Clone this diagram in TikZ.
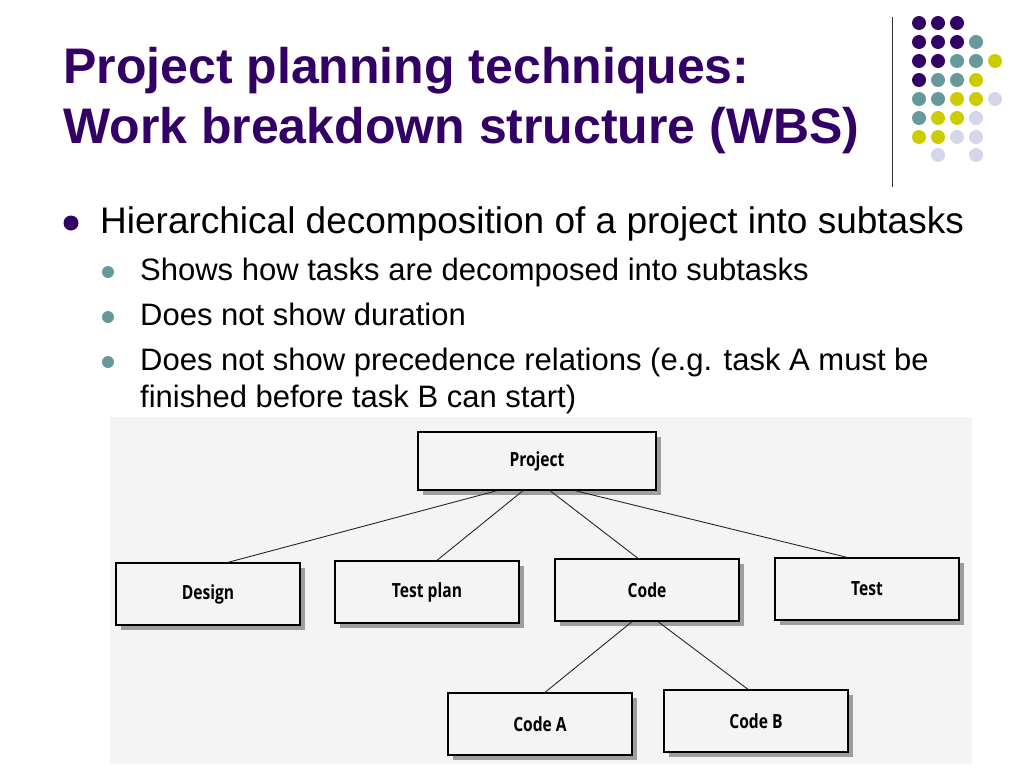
\documentclass[tikz,border=0pt]{standalone}
\usepackage{fontspec}
\setmainfont{Liberation Sans}
\newfontfamily\boxfont[FakeStretch=0.8]{Open Sans}
\usetikzlibrary{shadows}

\definecolor{slidepurple}{RGB}{51,0,102}
\definecolor{slideteal}{RGB}{102,153,153}
\definecolor{slideyellow}{RGB}{204,204,0}
\definecolor{slidelilac}{RGB}{214,214,235}
\definecolor{scanbg}{RGB}{244,244,244}

\tikzset{
  title/.style={anchor=base west, inner sep=0, color=slidepurple, font=\bfseries\fontsize{50}{60}\selectfont},
  itemtext/.style={anchor=base west, inner sep=0, color=black},
  task/.style={draw, line width=1.3pt, fill=scanbg, minimum width=184pt, minimum height=62pt,
    font=\boxfont\bfseries\fontsize{19.5}{22}\selectfont,
    drop shadow={shadow xshift=5pt, shadow yshift=-5pt, fill=black!38, opacity=1}},
  link/.style={line width=0.9pt, color=black!85}
}

\begin{document}
\begin{tikzpicture}[x=1pt, y=-1pt]
        \useasboundingbox (0,0) rectangle (1024,768);
        \fill[white] (0,0) rectangle (1024,768);

        % title
        \node[title] (title1) at (63,83) {Project planning techniques:};
        \node[title] (title2) at (63,143) {Work breakdown structure (WBS)};

        % corner dots
        \draw[color=black!80, line width=1pt] (892,17) -- (892,187);
        \fill[slidepurple] (919,23) circle (7) (938,23) circle (7) (957,23) circle (7)
          (919,42) circle (7) (938,42) circle (7) (957,42) circle (7)
          (919,61) circle (7) (938,61) circle (7) (919,80) circle (7);
        \fill[slideteal] (976,42) circle (7) (957,61) circle (7) (976,61) circle (7)
          (938,80) circle (7) (957,80) circle (7) (919,99) circle (7) (938,99) circle (7)
          (919,118) circle (7);
        \fill[slideyellow] (995,61) circle (7) (976,80) circle (7) (957,99) circle (7)
          (976,99) circle (7) (938,118) circle (7) (957,118) circle (7)
          (919,137) circle (7) (938,137) circle (7);
        \fill[slidelilac] (995,99) circle (7) (976,118) circle (7) (957,137) circle (7)
          (976,137) circle (7) (938,155) circle (7) (976,155) circle (7);

        % bullets
        \node[circle, fill=slidepurple, inner sep=0, minimum size=15pt] (dot0) at (71,223) {};
        \node[itemtext, font=\fontsize{37}{44}\selectfont] (item0) at (100,233) {Hierarchical decomposition of a project into subtasks};
        \node[circle, fill=slideteal, inner sep=0, minimum size=12pt] (dot1) at (108,272) {};
        \node[circle, fill=slideteal, inner sep=0, minimum size=12pt] (dot2) at (108,317) {};
        \node[circle, fill=slideteal, inner sep=0, minimum size=12pt] (dot3) at (108,362) {};
        \node[itemtext, font=\fontsize{31}{37}\selectfont] (item1) at (140,280) {Shows how tasks are decomposed into subtasks};
        \node[itemtext, font=\fontsize{31}{37}\selectfont] (item2) at (140,325) {Does not show duration};
        \node[itemtext, font=\fontsize{31}{37}\selectfont] (item3) at (140,370) {Does not show precedence relations (e.g. task A must be};
        \node[itemtext, font=\fontsize{31}{37}\selectfont] (item3b) at (140,407) {finished before task B can start)};

        % wbs tree
        \fill[scanbg] (110,417) rectangle (972,764);
        \node[task, minimum width=238pt, minimum height=58pt] (project) at (537,461) {Project};
        \node[task] (design) at (208,594) {Design};
        \node[task] (testplan) at (427,592) {Test plan};
        \node[task] (code) at (647,590) {Code};
        \node[task] (test) at (867,589) {Test};
        \node[task] (codea) at (540,724) {Code A};
        \node[task] (codeb) at (756,721) {Code B};

        \draw[link] ([xshift=-40pt]project.south) -- ([xshift=20pt]design.north);
        \draw[link] ([xshift=-14pt]project.south) -- ([xshift=10pt]testplan.north);
        \draw[link] ([xshift=13pt]project.south) -- ([xshift=-9pt]code.north);
        \draw[link] ([xshift=38pt]project.south) -- ([xshift=-20pt]test.north);
        \draw[link] ([xshift=-15pt]code.south) -- ([xshift=5pt]codea.north);
        \draw[link] ([xshift=11pt]code.south) -- ([xshift=-8pt]codeb.north);
      \end{tikzpicture}
\end{document}
